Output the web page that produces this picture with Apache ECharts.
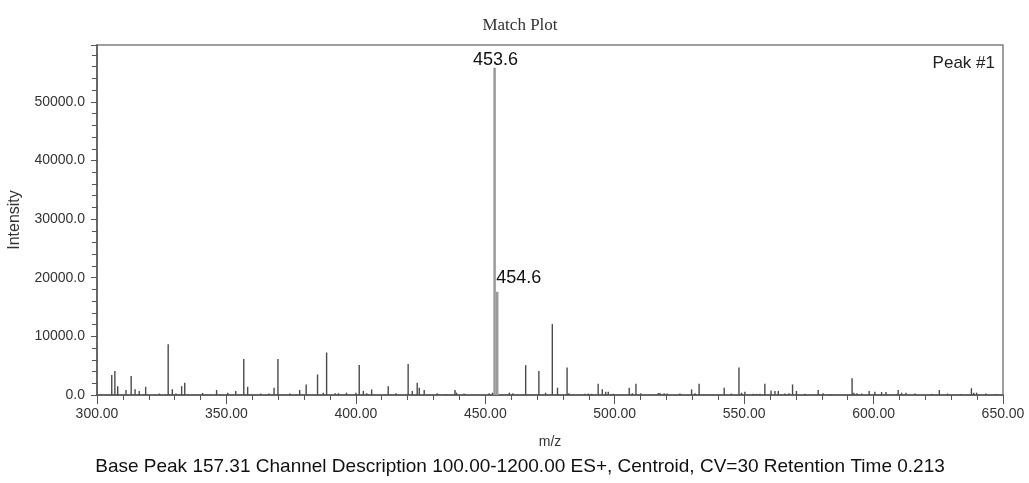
<!DOCTYPE html>
<html>
<head>
<meta charset="utf-8">
<script src="https://cdn.jsdelivr.net/npm/echarts@6/dist/echarts.min.js"></script>
<style>
html,body{margin:0;padding:0;background:#fff;}
#chart{width:1029px;height:483px;}
</style>
</head>
<body>
<div id="chart"></div>
<script>
// ---- data ----
const peakMz = [
  305.7,306.9,308.0,311.2,313.2,314.7,316.3,318.8,324.1,327.5,329.1,330.5,332.7,333.9,340.8,346.2,350.5,353.6,356.7,358.2,
  363.2,366.4,368.4,369.9,374.5,378.3,380.8,385.2,387.4,388.7,392.0,393.3,396.4,400.0,401.3,402.9,404.2,406.1,412.5,415.5,
  420.2,421.8,423.7,424.5,426.4,431.4,434.6,438.3,438.9,441.8,451.5,452.8,459.3,460.7,465.6,470.7,473.3,475.9,477.9,481.6,
  482.3,488.5,489.8,491.1,493.6,495.2,496.5,497.5,499.4,505.6,506.8,508.2,510.1,516.8,517.5,519.1,520.2,525.2,529.7,531.0,
  532.6,542.3,545.1,548.0,549.0,550.3,553.5,554.8,556.1,558.0,560.4,561.9,563.2,565.7,567.3,568.7,570.2,573.5,578.6,580.5,
  583.4,591.7,592.4,593.6,595.4,598.3,600.5,603.1,604.8,609.5,610.8,612.5,616.0,622.4,625.4,628.6,633.7,637.8,638.7,639.8,
  643.4,647.2
];
const peakIntensity = [
  3400,4100,1500,850,3250,1000,700,1400,250,8650,1000,250,1500,2100,350,850,400,700,6150,1400,
  250,250,1250,6150,250,850,1800,3500,400,7250,300,300,400,400,5100,700,300,950,1500,300,
  5300,700,2100,1250,850,300,150,850,400,250,300,400,400,300,5100,4100,400,12100,1250,4700,
  300,200,250,200,1900,1000,550,550,200,1250,300,1900,300,350,350,300,250,250,950,300,
  1900,1250,250,4700,400,550,200,200,200,1900,750,700,700,250,300,1800,700,200,850,300,
  150,2850,400,300,250,700,550,500,500,850,400,400,250,200,850,250,150,1150,400,400,
  250,150
];
// labelled (major) peaks
const majorMz = [453.6, 454.6];
const majorIntensity = [55800, 17600];

const xTicks = [300, 350, 400, 450, 500, 550, 600, 650];
const yTicks = [0, 10000, 20000, 30000, 40000, 50000];

const titleText = 'Match Plot';
const cornerText = 'Peak #1';
const footerText = 'Base Peak 157.31 Channel Description 100.00-1200.00 ES+, Centroid, CV=30 Retention Time 0.213';

const SANS = '"Liberation Sans", Arial, sans-serif';
const SERIF = '"Liberation Serif", "Times New Roman", serif';

const chart = echarts.init(document.getElementById('chart'), null, {renderer: 'canvas'});

function stickRender(width, color, withLabel) {
  return function (params, api) {
    const x = api.value(0), y = api.value(1);
    const p0 = api.coord([x, 0]);
    const p1 = api.coord([x, y]);
    const children = [{
      type: 'line',
      shape: {x1: p0[0], y1: p0[1], x2: p1[0], y2: p1[1]},
      style: {stroke: color, lineWidth: width}
    }];
    if (withLabel) {
      const first = params.dataIndex === 0;
      children.push({
        type: 'text',
        x: first ? p1[0] + 1 : p1[0] - 1,
        y: first ? p1[1] + 1 : p1[1] - 5,
        style: {
          text: x.toFixed(1),
          fill: '#111',
          font: '18px ' + SANS,
          align: first ? 'center' : 'left',
          verticalAlign: 'bottom'
        }
      });
    }
    return {type: 'group', children: children};
  };
}

const option = {
  backgroundColor: '#fff',
  animation: false,
  title: {
    text: titleText,
    left: 515, top: 12, textAlign: 'center',
    textStyle: {fontFamily: SERIF, fontSize: 17, fontWeight: 'normal', color: '#333'}
  },
  grid: {left: 97, right: 26, top: 45, bottom: 88, outerBoundsMode: 'none', containLabel: false,
    show: true, borderColor: '#808080', borderWidth: 1.5, backgroundColor: '#fff'},
  xAxis: {
    type: 'value',
    min: xTicks[0], max: xTicks[xTicks.length - 1], interval: 50,
    name: 'm/z', nameLocation: 'middle', nameGap: 40,
    nameTextStyle: {fontFamily: SANS, fontSize: 14, color: '#333'},
    axisLine: {show: true, onZero: false, lineStyle: {color: '#555', width: 1.5}},
    axisTick: {show: true, length: 9, lineStyle: {color: '#555'}},
    minorTick: {show: true, splitNumber: 5, length: 5, lineStyle: {color: '#555'}},
    splitLine: {show: false},
    axisLabel: {margin: 12, fontFamily: SANS, fontSize: 14, color: '#333', formatter: v => v.toFixed(2)}
  },
  yAxis: {
    type: 'value',
    min: yTicks[0], max: 59700, interval: 10000,
    name: 'Intensity', nameLocation: 'middle', nameGap: 74, nameRotate: 90,
    nameTextStyle: {fontFamily: SANS, fontSize: 16, color: '#333'},
    axisLine: {show: true, lineStyle: {color: '#555', width: 1.5}},
    axisTick: {show: true, length: 6, lineStyle: {color: '#555'}},
    minorTick: {show: true, splitNumber: 5, length: 5, lineStyle: {color: '#555'}},
    splitLine: {show: false},
    axisLabel: {margin: 12, fontFamily: SANS, fontSize: 14, color: '#333', showMaxLabel: false,
      formatter: v => (yTicks.indexOf(v) >= 0 ? v.toFixed(1) : '')}
  },
  graphic: [
    {type: 'text', x: 995, y: 63, style: {text: cornerText, font: '17px ' + SANS, fill: '#222', align: 'right', verticalAlign: 'middle'}},
    {type: 'text', x: 520, y: 467, style: {text: footerText, font: '19px ' + SANS, fill: '#111', align: 'center', verticalAlign: 'middle'}}
  ],
  series: [
    {
      type: 'custom',
      name: 'peaks',
      renderItem: stickRender(1.4, '#4a4a4a', false),
      data: peakMz.map((m, i) => [m, peakIntensity[i]]),
      encode: {x: 0, y: 1},
      clip: true
    },
    {
      type: 'custom',
      name: 'major',
      renderItem: stickRender(2.5, '#9a9a9a', true),
      data: majorMz.map((m, i) => [m, majorIntensity[i]]),
      encode: {x: 0, y: 1},
      clip: false
    }
  ]
};
chart.setOption(option);
</script>
</body>
</html>
